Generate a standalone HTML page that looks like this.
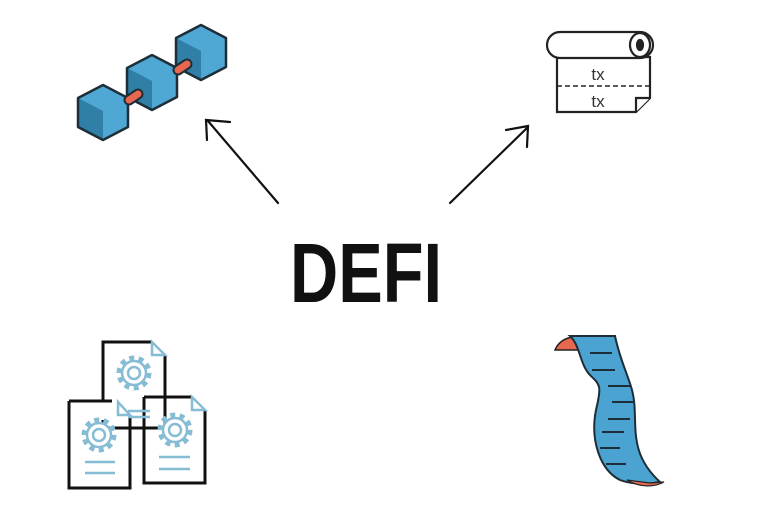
<!DOCTYPE html>
<html><head><style>body{margin:0;background:#fff}svg{display:block}</style></head><body>
<svg width="768" height="509" viewBox="0 0 768 509" xmlns="http://www.w3.org/2000/svg">
<defs>
<g id="cube">
<polygon points="25,0 50,13 50,42 25,55 0,42 0,13" fill="#4fa7d3"/>
<polygon points="0,13 25,26 25,55 0,42" fill="#2f7fa6"/>
<polygon points="0,13 25,0 50,13 50,42 25,55 0,42Z M0,13 L25,26 L50,13 M25,26 L25,55" fill="none" stroke="#1e2e38" stroke-width="2.5" stroke-linejoin="round"/>
</g>
<g id="gear" fill="none" stroke="#86bcd4" stroke-width="2.5">
<circle r="15" stroke-dasharray="5 4.4" stroke-width="5"/><circle r="12" fill="#fff"/><circle r="6"/>
</g>
</defs>
<!-- chain -->
<use href="#cube" x="78" y="85"/>
<use href="#cube" x="127" y="55"/>
<use href="#cube" x="176" y="25"/>
<g stroke-linecap="round">
<line x1="129" y1="100" x2="138" y2="94" stroke="#1e2e38" stroke-width="11"/>
<line x1="129" y1="100" x2="138" y2="94" stroke="#e8674f" stroke-width="7"/>
<line x1="178" y1="70" x2="187" y2="64" stroke="#1e2e38" stroke-width="11"/>
<line x1="178" y1="70" x2="187" y2="64" stroke="#e8674f" stroke-width="7"/>
</g>
<!-- arrows -->
<g stroke="#111" stroke-width="2.2" fill="none" stroke-linecap="round">
<path d="M278,203 L208,121 M207,140 L206,120 L230,122"/>
<path d="M450,203 L528,127 M506,130 L528,126 L527,147"/>
</g>
<!-- roll -->
<g stroke="#222" stroke-width="2.2" fill="#fff">
<path d="M557,57 L650,57 L650,98 L636,112 L557,112 Z"/>
<path d="M636,112 L636,98 L650,98" />
<rect x="547" y="32" width="106" height="26" rx="13"/>
<ellipse cx="640" cy="45" rx="10" ry="12"/>
<ellipse cx="640" cy="45" rx="3" ry="5" fill="#222"/>
<line x1="557" y1="86" x2="650" y2="86" stroke-dasharray="5 3" stroke-width="1.6"/>
</g>
<text x="598" y="80" font-family="Liberation Sans,sans-serif" font-size="17" text-anchor="middle" fill="#333">tx</text>
<text x="598" y="107" font-family="Liberation Sans,sans-serif" font-size="17" text-anchor="middle" fill="#333">tx</text>
<!-- DEFI -->
<text x="290" y="302" font-family="Liberation Sans,sans-serif" font-weight="bold" font-size="84" textLength="152" lengthAdjust="spacingAndGlyphs" fill="#111">DEFI</text>
<!-- documents -->
<g fill="none" stroke="#111" stroke-width="3">
<path d="M103,401 L103,342 L152,342 M165,355 L165,430"/>
<path d="M69,401 L69,488 L130,488 L130,416 M69,401 L112,401"/>
<path d="M144,397 L144,483 L205,483 L205,410 M144,397 L192,397"/>
<path d="M103,420 L103,428 L165,428"/>
</g>
<g fill="none" stroke="#86bcd4" stroke-width="2.5">
<path d="M152,342 L165,355 L152,355 Z"/>
<path d="M118,402 L130,415 L118,415 Z"/>
<path d="M192,397 L205,410 L192,410 Z"/>
<line x1="128" y1="411" x2="150" y2="411"/><line x1="128" y1="417" x2="150" y2="417"/>
<line x1="85" y1="462" x2="115" y2="462"/><line x1="85" y1="473" x2="115" y2="473"/>
<line x1="159" y1="457" x2="190" y2="457"/><line x1="159" y1="469" x2="190" y2="469"/>
</g>
<use href="#gear" x="134" y="373"/>
<use href="#gear" x="99" y="435"/>
<use href="#gear" x="175" y="430"/>
<!-- scroll -->
<path d="M555,350 C560,338 575,334 580,340 L578,350 Z" fill="#e8674f" stroke="#222" stroke-width="1.5"/>
<path d="M570,336 L615,336 C620,360 628,375 632,390 C640,420 625,450 660,482 C640,486 625,482 620,480 C600,470 590,440 596,410 C602,385 600,385 590,375 C580,365 580,345 570,336 Z" fill="#4aa3d0" stroke="#1e2e38" stroke-width="2"/>
<path d="M627,480 C640,488 655,487 664,482 L650,483 Z" fill="#e8674f" stroke="#222" stroke-width="1.2"/>
<g stroke="#1e2e38" stroke-width="2">
<line x1="590" y1="353" x2="612" y2="353"/><line x1="592" y1="370" x2="615" y2="370"/>
<line x1="608" y1="386" x2="630" y2="386"/><line x1="612" y1="402" x2="633" y2="402"/>
<line x1="608" y1="419" x2="630" y2="419"/><line x1="602" y1="432" x2="624" y2="432"/>
<line x1="600" y1="448" x2="620" y2="448"/><line x1="606" y1="464" x2="626" y2="464"/>
</g>
</svg>
</body></html>
